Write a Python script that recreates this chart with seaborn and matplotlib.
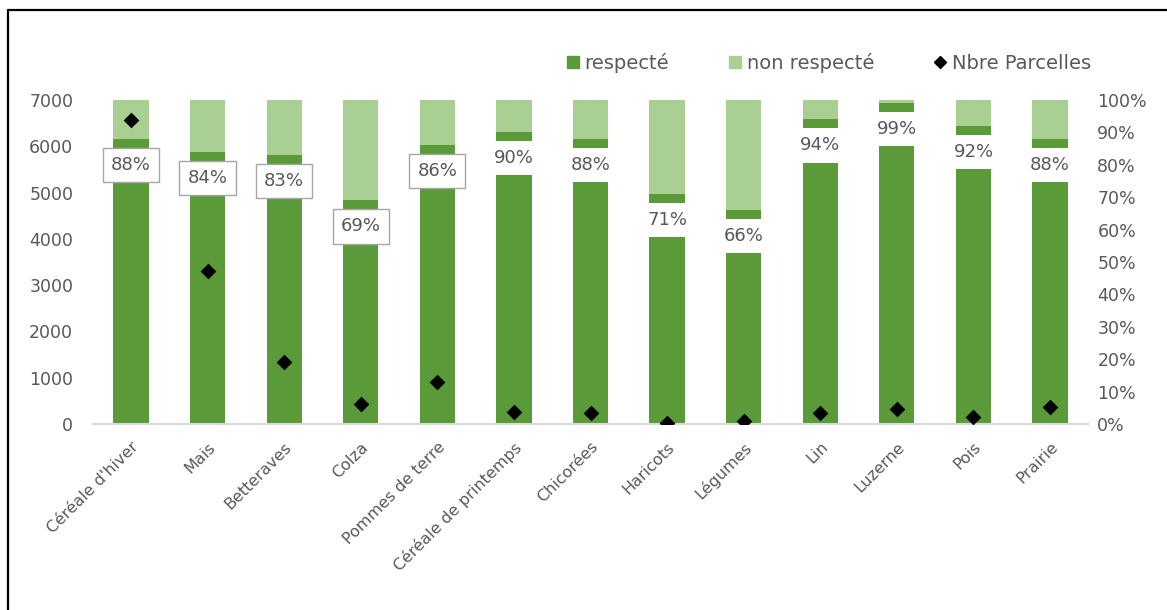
import numpy as np
import pandas as pd
import seaborn as sns
import matplotlib
matplotlib.use("Agg")
import matplotlib.pyplot as plt
from matplotlib.lines import Line2D

categories = ["Céréale d'hiver", "Mais", "Betteraves", "Colza", "Pommes de terre",
              "Céréale de printemps", "Chicorées", "Haricots", "Légumes", "Lin",
              "Luzerne", "Pois", "Prairie"]
respecte_pct = [88, 84, 83, 69, 86, 90, 88, 71, 66, 94, 99, 92, 88]
total_pct = [100] * 13
nbre_parcelles = [6565, 3305, 1350, 425, 905, 265, 245, 15, 72, 245, 317, 158, 374]
boxed = [True, True, True, True, True, False, False, False, False, False, False, False, False]
left_ticks = [0, 1000, 2000, 3000, 4000, 5000, 6000, 7000]
right_ticks = [0, 10, 20, 30, 40, 50, 60, 70, 80, 90, 100]

DARK = "#5B9A38"
LIGHT = "#A9CF92"
GRAY = "#595959"

sns.set_theme(style="white")
plt.rcParams["font.family"] = ["DejaVu Sans"]

df = pd.DataFrame({"cat": categories, "resp": respecte_pct, "tot": total_pct,
                   "n": nbre_parcelles})

fig = plt.figure(figsize=(11.67, 6.10), dpi=100)
ax = fig.add_axes([0.0794, 0.3049, 0.8532, 0.5311])

sns.barplot(data=df, x="cat", y="tot", color=LIGHT, width=0.46, ax=ax,
            saturation=1, edgecolor="none")
sns.barplot(data=df, x="cat", y="resp", color=DARK, width=0.46, ax=ax,
            saturation=1, edgecolor="none")
ax.set_ylim(0, 100)
ax.set_xlim(-0.5, len(categories) - 0.5)

for i, (p, b) in enumerate(zip(respecte_pct, boxed)):
    ax.text(i, p - 8, f"{p}%", ha="center", va="center", fontsize=13, color=GRAY,
            zorder=5,
            bbox=dict(boxstyle="square,pad=0.45", fc="white",
                      ec="#A6A6A6" if b else "none", lw=1.0))

ax2 = ax.twinx()
sns.stripplot(data=df, x="cat", y="n", marker="D", color="black", size=8,
              jitter=False, ax=ax2, zorder=6)
ax2.set_ylim(0, 7000)
ax2.set_xlim(-0.5, len(categories) - 0.5)

ax.yaxis.tick_right()
ax2.yaxis.tick_left()
ax.set_yticks(right_ticks)
ax.set_yticklabels([f"{t}%" for t in right_ticks])
ax2.set_yticks(left_ticks)
ax2.set_yticklabels([str(t) for t in left_ticks])

for a in (ax, ax2):
    a.set_xlabel("")
    a.set_ylabel("")
    for s in a.spines.values():
        s.set_visible(False)
    a.tick_params(axis="both", length=0, colors=GRAY, labelsize=12.5)
ax.tick_params(axis="y", pad=6.5)
ax2.tick_params(axis="y", pad=14)
ax.spines["bottom"].set_visible(True)
ax.spines["bottom"].set_color("#D9D9D9")
ax.spines["bottom"].set_linewidth(1.5)

ax.set_xticks(range(len(categories)))
ax.set_xticklabels(categories, rotation=45, ha="right", rotation_mode="anchor",
                   fontsize=11.5, color=GRAY)
ax.tick_params(axis="x", pad=11)

handles = [
    Line2D([], [], marker="s", ls="none", color=DARK, markersize=8),
    Line2D([], [], marker="s", ls="none", color=LIGHT, markersize=8),
    Line2D([], [], marker="D", ls="none", color="black", markersize=6),
]
leg = fig.legend(handles, ["respecté", "non respecté", "Nbre Parcelles"],
                 loc="center left", bbox_to_anchor=(0.474, 0.897), ncol=3,
                 frameon=False, fontsize=14, handlelength=0.6,
                 handletextpad=0.3, columnspacing=3.1, borderpad=0.2)
for t in leg.get_texts():
    t.set_color(GRAY)

fig.add_artist(Line2D([0.0065, 0.0065], [0.0, 0.984], transform=fig.transFigure,
                      color="black", lw=1.6))
fig.add_artist(Line2D([0.0065, 1.0], [0.984, 0.984], transform=fig.transFigure,
                      color="black", lw=1.6))

fig.savefig("out.png", dpi=100, facecolor="white")
